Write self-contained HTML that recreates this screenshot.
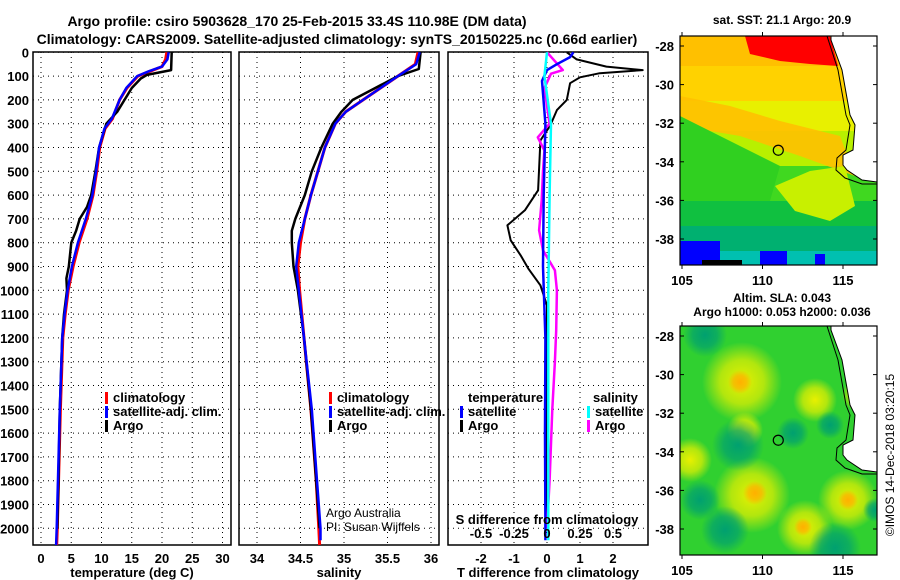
<!DOCTYPE html>
<html><head><meta charset="utf-8">
<style>
html,body{margin:0;padding:0;background:#fff;}
svg{display:block;font-family:"Liberation Sans",sans-serif;}
</style></head>
<body>
<svg id="c" width="900" height="580" viewBox="0 0 900 580" xmlns="http://www.w3.org/2000/svg">
<text x="297" y="26" text-anchor="middle" font-size="14" font-weight="bold">Argo profile: csiro 5903628_170 25-Feb-2015 33.4S 110.98E (DM data)</text>
<text x="337" y="44" text-anchor="middle" font-size="14" font-weight="bold">Climatology: CARS2009. Satellite-adjusted climatology: synTS_20150225.nc (0.66d earlier)</text>
<g id="g"></g>
</svg>
<script>
// ---------- data ----------
const depthTicks=[0,100,200,300,400,500,600,700,800,900,1000,1100,1200,1300,1400,1500,1600,1700,1800,1900,2000];
const tempTicks=[0,5,10,15,20,25,30];
const salTicks=[34,34.5,35,35.5,36];
const tdTicks=[-2,-1,0,1,2];
const sdTicks=[-0.5,-0.25,0,0.25,0.5];
const latTicks=[-28,-30,-32,-34,-36,-38];
const lonTicks=[105,110,115];

const tClimDepth=[0,30,60,80,100,150,200,280,320,400,500,600,700,800,900,1000,1100,1200,1500,2000,2070];
const tClim=[20.8,20.6,20.0,18.0,16.0,14.2,13.0,11.8,10.6,9.7,9.2,8.6,7.6,6.3,5.3,4.5,4.0,3.6,3.2,2.7,2.6];
const tSatDepth=[0,30,60,80,100,150,200,280,320,400,500,600,700,800,900,1000,1100,1200,1500,2000,2070];
const tSat=[21.1,20.9,20.0,17.8,15.9,14.1,13.0,11.7,10.5,9.6,9.1,8.5,7.4,6.1,5.1,4.4,3.9,3.5,3.1,2.6,2.5];
const tArgoDepth=[0,75,85,95,110,150,200,250,300,400,500,600,650,700,750,800,900,950,1000,1100,1200,1500,1800,2000];
const tArgo=[21.6,21.5,19.5,17.5,16.5,15.0,13.8,12.6,10.8,9.6,9.0,8.3,7.6,6.4,5.8,5.0,4.6,4.2,4.3,3.8,3.5,3.1,2.9,2.7];

const sClimDepth=[0,50,100,150,200,250,300,400,500,600,700,800,900,1000,1200,1500,1800,2000,2070];
const sClim=[35.85,35.82,35.62,35.42,35.22,35.02,34.90,34.78,34.70,34.62,34.55,34.50,34.47,34.49,34.54,34.62,34.68,34.71,34.72];
const sSatDepth=[0,50,100,150,200,250,300,400,500,600,700,800,900,1000,1200,1500,1800,2000,2050];
const sSat=[35.87,35.83,35.62,35.42,35.22,35.02,34.90,34.78,34.70,34.62,34.55,34.48,34.45,34.48,34.54,34.63,34.69,34.73,34.73];
const sArgoDepth=[0,70,100,150,200,250,300,400,500,600,700,750,800,900,1000,1200,1500,1800,2000];
const sArgo=[35.88,35.86,35.62,35.36,35.10,34.97,34.87,34.74,34.63,34.55,34.44,34.40,34.40,34.42,34.47,34.54,34.62,34.68,34.72];

const dTArgoDepth=[0,30,60,75,88,105,130,200,243,307,370,580,664,727,790,853,908,979,1063,1300,1600,2000];
const dTArgo=[0.6,0.9,1.8,2.9,1.6,1.0,0.7,0.6,0.3,0.1,-0.2,-0.27,-0.67,-1.2,-1.1,-0.8,-0.57,-0.2,0,0.0,0.0,0.0];
const dTSatDepth=[0,20,50,75,120,300,600,900,1200,1600,2000,2050];
const dTSat=[0.8,0.7,0.3,0.0,-0.15,-0.05,-0.1,-0.12,-0.05,-0.06,-0.05,-0.05];
const dSArgoDepth=[0,50,75,90,150,300,357,412,500,622,748,832,916,1000,1168,1300,1500,1800,2000];
const dSArgo=[0.0,0.08,0.12,0.03,-0.02,0.02,-0.07,-0.02,-0.03,-0.04,-0.06,-0.03,0.06,0.075,0.07,0.06,0.04,0.02,0.0];
const dSSatDepth=[0,100,300,600,1000,1500,2000,2050];
const dSSat=[0.0,-0.02,0.03,0.02,0.01,0.01,0.01,0.01];

// ---------- helpers ----------
const NS="http://www.w3.org/2000/svg";
const G=document.getElementById('g');
function mk(tag,attrs,parent){const e=document.createElementNS(NS,tag);for(const k in attrs)e.setAttribute(k,attrs[k]);(parent||G).appendChild(e);return e;}
function txt(x,y,s,opt){const e=mk('text',Object.assign({x:x,y:y,'font-size':13,'font-weight':'bold'},opt||{}));e.textContent=s;return e;}
const yD=d=>52.3+d*0.238;
const P1={l:33,r:231,t:52,b:545,x:v=>41+v*6.05};
const P2={l:239,r:439,t:52,b:545,x:v=>257+(v-34)*87};
const P3={l:448,r:648,t:52,b:545,x:v=>547+v*33};
const xS=v=>547+v*132;

function frame(P,name,xt,xfn,xlabel){
  const g=mk('g',{});
  
  
  depthTicks.forEach(d=>{const l=mk('line',{x1:P.l,x2:P.r,y1:yD(d),y2:yD(d),stroke:'#000','stroke-dasharray':'1,4','stroke-width':1},g);
    });
  xt.forEach(v=>{const x=xfn(v);const l=mk('line',{x1:x,x2:x,y1:P.t,y2:P.b,stroke:'#000','stroke-dasharray':'1,4'},g);
    
    const t=txt(x,563,String(v),{'text-anchor':'middle'});});
  const r=mk('rect',{x:P.l,y:P.t,width:P.r-P.l,height:P.b-P.t,fill:'none',stroke:'#000','stroke-width':1.5},g);
  
  const a=txt((P.l+P.r)/2,577,xlabel,{'text-anchor':'middle'});
  
}
function line(ds,vs,xf,col,w,name){
  const pts=ds.map((d,i)=>xf(vs[i]).toFixed(1)+','+yD(d).toFixed(1)).join(' ');
  const e=mk('polyline',{points:pts,fill:'none',stroke:col,'stroke-width':w,'stroke-linejoin':'round'});
  
  
}
depthTicks.forEach(d=>{const t=txt(29,yD(d)+5,String(d),{'text-anchor':'end'});});

frame(P1,'temperature-panel',tempTicks,P1.x,'temperature (deg C)');
line(tClimDepth,tClim,P1.x,'#f00',3,'temp-climatology-line');
line(tArgoDepth,tArgo,P1.x,'#000',2.5,'temp-argo-line');
line(tSatDepth,tSat,P1.x,'#00f',2.5,'temp-satellite-line');

frame(P2,'salinity-panel',salTicks,P2.x,'salinity');
line(sClimDepth,sClim,P2.x,'#f00',3,'sal-climatology-line');
line(sArgoDepth,sArgo,P2.x,'#000',2.5,'sal-argo-line');
line(sSatDepth,sSat,P2.x,'#00f',2.5,'sal-satellite-line');

frame(P3,'difference-panel',tdTicks,P3.x,'T difference from climatology');
line(dTArgoDepth,dTArgo,P3.x,'#000',2,'tdiff-argo-line');
line(dSArgoDepth,dSArgo,xS,'#f0f',2.5,'sdiff-argo-line');
line(dTSatDepth,dTSat,P3.x,'#00f',2.5,'tdiff-satellite-line');
line(dSSatDepth,dSSat,xS,'#0ff',2.5,'sdiff-satellite-line');
sdTicks.forEach(v=>{const t=txt(xS(v),538,String(v),{'text-anchor':'middle'});});
{const t=txt(547,524,'S difference from climatology',{'text-anchor':'middle'});}

function leg(x,y,col,label,name){
  const r=mk('rect',{x:x,y:y-10,width:3,height:12,fill:col});
  
  const t=txt(x+8,y,label);
}
leg(105,402,'#f00','climatology','legend-climatology');
leg(105,416,'#00f','satellite-adj. clim.','legend-satellite');
leg(105,430,'#000','Argo','legend-argo');
leg(329,402,'#f00','climatology','legend2-climatology');
leg(329,416,'#00f','satellite-adj. clim.','legend2-satellite');
leg(329,430,'#000','Argo','legend2-argo');
{const t=txt(468,402,'temperature');}
leg(460,416,'#00f','satellite','legend-t-satellite');
leg(460,430,'#000','Argo','legend-t-argo');
{const t=txt(593,402,'salinity');}
leg(587,416,'#0ff','satellite','legend-s-satellite');
leg(587,430,'#f0f','Argo','legend-s-argo');
{const t=txt(326,517,'Argo Australia',{'font-weight':'normal','font-size':12});}
{const t=txt(326,531,'PI: Susan Wijffels',{'font-weight':'normal','font-size':12});}

// ---------- maps ----------
function map(top,name,kind){
  const L=680,R=877,T=top,B=top+229;
  const lonX=v=>682+(v-105)*16.1, latY=v=>top+10+(-28-v)*19.3;
  const g=mk('g',{});
  
  
  const cid='clip'+top;
  const cp=mk('clipPath',{id:cid},g);mk('rect',{x:L,y:T,width:R-L,height:B-T},cp);
  const f=mk('g',{'clip-path':'url(#'+cid+')'},g);
  if(kind==='sst'){
    const bands=[[0,30,'#ffc000'],[30,65,'#ffd200'],[65,95,'#e8f000'],[95,130,'#b8f000'],[130,165,'#40d820'],[165,190,'#10c040'],[190,215,'#00b070'],[215,232,'#00c0b0'],[232,248,'#00c0ff'],[248,229+40,'#30a0ff']];
    bands.forEach(b=>mk('rect',{x:L,y:T+b[0],width:R-L,height:b[1]-b[0],fill:b[2]},f));
    mk('polygon',{points:`${L},${T+60} ${L+50},${T+70} ${L+100},${T+85} ${L+160},${T+100} ${L+175},${T+140} ${L+120},${T+120} ${L+60},${T+100} ${L},${T+90}`,fill:'#ffc000',opacity:0.9},f);
    mk('polygon',{points:`${L},${T+80} ${L+30},${T+95} ${L+70},${T+115} ${L+100},${T+130} ${L+90},${T+165} ${L},${T+165}`,fill:'#30d020'},f);
    mk('polygon',{points:`${L+95},${T+150} ${L+130},${T+135} ${L+165},${T+130} ${L+175},${T+170} ${L+150},${T+185} ${L+115},${T+175}`,fill:'#c8f000'},f);
    mk('polygon',{points:`${L+65},${T} ${L+150},${T} ${L+158},${T+30} ${L+130},${T+28} ${L+100},${T+25} ${L+70},${T+18}`,fill:'#f00'},f);
    mk('rect',{x:L,y:T+205,width:40,height:24,fill:'#0000ff'},f);
    mk('rect',{x:L+80,y:T+215,width:27,height:14,fill:'#0000ff'},f);
    mk('rect',{x:L+135,y:T+218,width:10,height:11,fill:'#0000ff'},f);
    mk('rect',{x:L+22,y:T+224,width:40,height:5,fill:'#000'},f);
  } else {
    mk('rect',{x:L,y:T,width:R-L,height:B-T,fill:'#30d030'},f);
    const defs=mk('defs',{},f);
    const rg=(id,c)=>{const r=mk('radialGradient',{id:id},defs);mk('stop',{offset:'0','stop-color':c},r);mk('stop',{offset:'0.55','stop-color':c,'stop-opacity':0.7},r);mk('stop',{offset:'1','stop-color':c,'stop-opacity':0},r);};
    rg('yb','#e8f000');rg('ob','#ffb000');rg('tb','#00a070');
    [[742,382,40],[752,495,38],[805,528,28],[848,500,30],[690,460,22],[815,400,22],[745,430,18],[858,395,16]].forEach(p=>mk('circle',{cx:p[0],cy:p[1],r:p[2],fill:'url(#yb)'},f));
    [[740,382,12],[755,493,12],[803,527,9],[848,500,10]].forEach(p=>mk('circle',{cx:p[0],cy:p[1],r:p[2],fill:'url(#ob)'},f));
    [[705,335,22],[738,445,26],[725,530,24],[835,548,26],[700,500,20],[793,433,16],[830,425,14],[875,510,12]].forEach(p=>mk('circle',{cx:p[0],cy:p[1],r:p[2],fill:'url(#tb)'},f));
  }
  const land=`831,${T} ${R},${T} ${R},${T+146} 862,${T+144} 847,${T+134} 843,${T+129} 843,${T+119} 853,${T+114} 855,${T+89} 850,${T+79} 842,${T+34} 831,${T+4}`;
  const ld=mk('polygon',{points:land,fill:'#fff',stroke:'#000','stroke-width':1},f);
  
  mk('polyline',{points:`827,${T} 838,${T+34} 846,${T+79} 850,${T+89} 846,${T+114} 837,${T+122} 836,${T+134} 845,${T+142} 862,${T+148} ${R},${T+148}`,fill:'none',stroke:'#000','stroke-width':1},f);
  const c=mk('circle',{cx:lonX(110.98),cy:latY(-33.4),r:5,fill:'none',stroke:'#000','stroke-width':1.2},g);
  
  mk('rect',{x:L,y:T,width:R-L,height:B-T,fill:'none',stroke:'#000','stroke-width':1.2},g);
  latTicks.forEach(v=>{const y=latY(v);mk('line',{x1:L,x2:L+4,y1:y,y2:y,stroke:'#000'},g);mk('line',{x1:R-4,x2:R,y1:y,y2:y,stroke:'#000'},g);
    const t=txt(674,y+5,String(v),{'text-anchor':'end'});});
  lonTicks.forEach(v=>{const x=lonX(v);mk('line',{x1:x,x2:x,y1:B,y2:B+4,stroke:'#000'},g);mk('line',{x1:x,x2:x,y1:T,y2:T-4,stroke:'#000'},g);
    const t=txt(x,B+20,String(v),{'text-anchor':'middle'});});
}
map(36,'sst-map','sst');
map(326,'sla-map','sla');
{const t=txt(782,24,'sat. SST: 21.1 Argo: 20.9',{'text-anchor':'middle','font-size':12});}
{const t=txt(782,302,'Altim. SLA: 0.043',{'text-anchor':'middle','font-size':12});}
{const t=txt(782,316,'Argo h1000: 0.053 h2000: 0.036',{'text-anchor':'middle','font-size':12});}
{const t=txt(0,0,'©IMOS 14-Dec-2018 03:20:15',{'font-weight':'normal','font-size':12,'text-anchor':'middle',transform:'translate(894,455) rotate(-90)'});}
</script>
</body></html>
